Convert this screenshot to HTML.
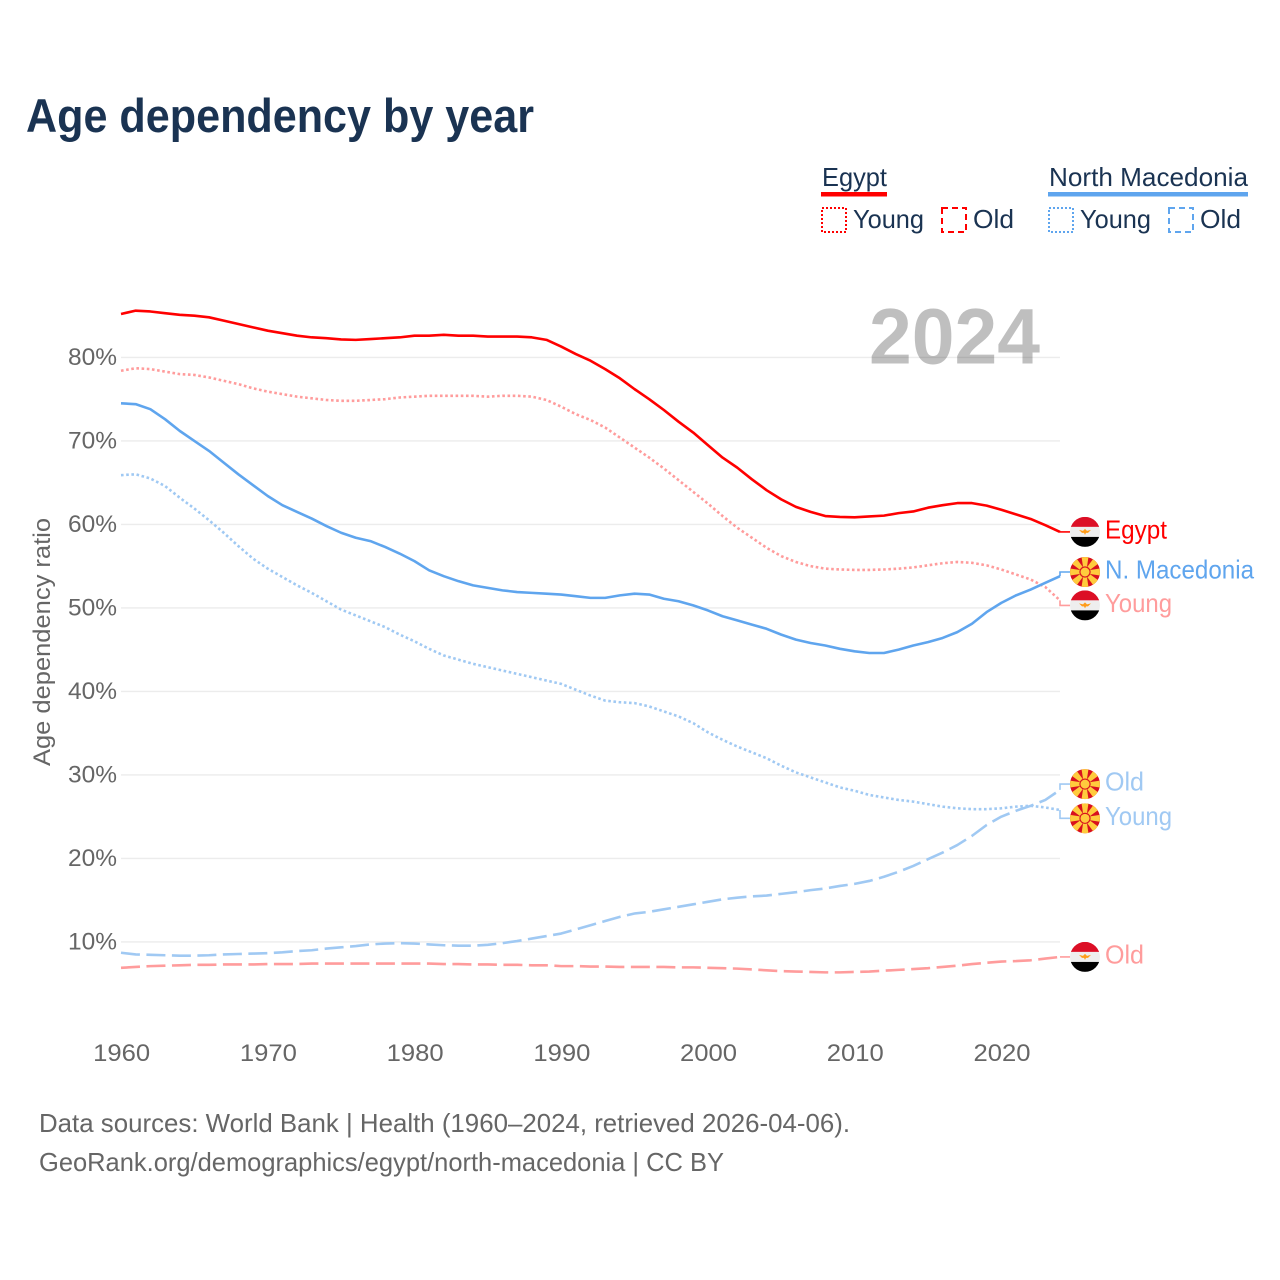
<!DOCTYPE html>
<html lang="en">
<head>
<meta charset="utf-8">
<title>Age dependency by year</title>
<style>
html,body{margin:0;padding:0;background:#fff;}
svg{display:block;font-family:"Liberation Sans",sans-serif;}
</style>
</head>
<body>
<svg id="chart" width="1280" height="1280" viewBox="0 0 1280 1280" xmlns="http://www.w3.org/2000/svg">
<defs>
<clipPath id="flag-clip"><circle cx="0" cy="0" r="15"/></clipPath>
<g id="flag-eg" clip-path="url(#flag-clip)">
<rect x="-15" y="-15" width="30" height="10" fill="#dc0f26"/>
<rect x="-15" y="-5" width="30" height="10" fill="#eeeeee"/>
<rect x="-15" y="5" width="30" height="10" fill="#000000"/>
<path d="M-6 -2 L-2 -1 L0 -3 L2 -1 L6 -2 L3 1 L1 1 L0 3 L-1 1 L-3 1 Z" fill="#ff9c1a"/>
</g>
<g id="flag-mk" clip-path="url(#flag-clip)">
<rect x="-15" y="-15" width="30" height="30" fill="#d8101e"/>
<g fill="#ffcb3d">
<path d="M-1.2 0 L-3.6 -16 L3.6 -16 L1.2 0 Z"/>
<path d="M-1.2 0 L-3.6 -16 L3.6 -16 L1.2 0 Z" transform="rotate(45)"/>
<path d="M-1.2 0 L-3.6 -16 L3.6 -16 L1.2 0 Z" transform="rotate(90)"/>
<path d="M-1.2 0 L-3.6 -16 L3.6 -16 L1.2 0 Z" transform="rotate(135)"/>
<path d="M-1.2 0 L-3.6 -16 L3.6 -16 L1.2 0 Z" transform="rotate(180)"/>
<path d="M-1.2 0 L-3.6 -16 L3.6 -16 L1.2 0 Z" transform="rotate(225)"/>
<path d="M-1.2 0 L-3.6 -16 L3.6 -16 L1.2 0 Z" transform="rotate(270)"/>
<path d="M-1.2 0 L-3.6 -16 L3.6 -16 L1.2 0 Z" transform="rotate(315)"/>
<circle cx="0" cy="0" r="5.6" fill="#d8101e"/>
<circle cx="0" cy="0" r="4.5"/>
</g>
</g>
</defs>

<text x="26" y="132" font-size="47" font-weight="700" fill="#1a3352" textLength="508" lengthAdjust="spacingAndGlyphs">Age dependency by year</text>

<g font-size="26" fill="#1a3352">
<g>
<text x="822" y="186" textLength="65" lengthAdjust="spacingAndGlyphs">Egypt</text>
<rect x="821" y="192" width="66" height="4.5" fill="#ff0000"/>
<rect x="822" y="208" width="24" height="24" fill="none" stroke="#ff0000" stroke-width="2" stroke-dasharray="2 2"/>
<text x="853" y="228" textLength="71" lengthAdjust="spacingAndGlyphs">Young</text>
<rect x="942" y="208" width="24" height="24" fill="none" stroke="#ff0000" stroke-width="2" stroke-dasharray="6 4"/>
<text x="973" y="228" textLength="41" lengthAdjust="spacingAndGlyphs">Old</text>
</g>
<g>
<text x="1049" y="186" textLength="199" lengthAdjust="spacingAndGlyphs">North Macedonia</text>
<rect x="1048" y="192" width="200" height="4.5" fill="#5fa5ee"/>
<rect x="1049" y="208" width="24" height="24" fill="none" stroke="#5fa5ee" stroke-width="2" stroke-dasharray="2 2"/>
<text x="1080" y="228" textLength="71" lengthAdjust="spacingAndGlyphs">Young</text>
<rect x="1169" y="208" width="24" height="24" fill="none" stroke="#5fa5ee" stroke-width="2" stroke-dasharray="6 4"/>
<text x="1200" y="228" textLength="41" lengthAdjust="spacingAndGlyphs">Old</text>
</g>
</g>

<g id="grid"></g>
<g id="y-ticks"></g>
<g id="x-ticks"></g>

<text transform="translate(50,642) rotate(-90)" text-anchor="middle" font-size="24" fill="#666666" textLength="248" lengthAdjust="spacingAndGlyphs">Age dependency ratio</text>

<text x="869" y="363.5" font-size="79" font-weight="700" fill="#000000" fill-opacity="0.25" textLength="171" lengthAdjust="spacingAndGlyphs">2024</text>

<g id="series"></g>
<g id="end-labels"></g>

<g font-size="26" fill="#666666">
<text x="39" y="1132" textLength="811" lengthAdjust="spacingAndGlyphs">Data sources: World Bank | Health (1960–2024, retrieved 2026-04-06).</text>
<text x="39" y="1171" textLength="685" lengthAdjust="spacingAndGlyphs">GeoRank.org/demographics/egypt/north-macedonia | CC BY</text>
</g>
</svg>

<script>
const startYear = 1960;
const endYear = 2024;
const xTickYears = [1960, 1970, 1980, 1990, 2000, 2010, 2020];
const yTickValues = [10, 20, 30, 40, 50, 60, 70, 80];

const egyptTotal = [85.2,85.6,85.5,85.3,85.1,85.0,84.8,84.4,84.0,83.6,83.2,82.9,82.6,82.4,82.3,82.15,82.1,82.2,82.3,82.4,82.6,82.6,82.7,82.6,82.6,82.5,82.5,82.5,82.4,82.1,81.3,80.4,79.6,78.6,77.5,76.2,75.0,73.7,72.3,71.0,69.5,68.0,66.8,65.4,64.1,63.0,62.1,61.5,61.0,60.9,60.85,60.95,61.05,61.35,61.55,62.0,62.3,62.55,62.55,62.25,61.75,61.2,60.65,59.9,59.1];
const egyptYoung = [78.4,78.7,78.6,78.3,78.0,77.9,77.6,77.2,76.8,76.3,75.9,75.6,75.3,75.1,74.9,74.8,74.8,74.9,75.0,75.2,75.3,75.4,75.4,75.4,75.4,75.3,75.4,75.4,75.3,74.9,74.1,73.2,72.5,71.6,70.4,69.2,68.0,66.7,65.3,63.9,62.5,61.0,59.6,58.4,57.2,56.2,55.5,55.0,54.7,54.6,54.55,54.55,54.6,54.7,54.85,55.1,55.35,55.5,55.4,55.1,54.6,54.0,53.4,52.5,50.9];
const egyptOld = [6.9,7.0,7.1,7.15,7.2,7.25,7.25,7.3,7.3,7.3,7.35,7.35,7.35,7.4,7.4,7.4,7.4,7.4,7.4,7.4,7.4,7.4,7.35,7.35,7.3,7.3,7.25,7.25,7.2,7.2,7.1,7.1,7.05,7.05,7.0,7.0,7.0,7.0,6.95,6.95,6.9,6.85,6.8,6.7,6.6,6.5,6.45,6.4,6.35,6.35,6.4,6.45,6.55,6.65,6.75,6.85,7.0,7.15,7.35,7.5,7.65,7.7,7.8,8.0,8.2];
const macedoniaTotal = [74.5,74.4,73.8,72.6,71.2,70.0,68.8,67.4,66.0,64.7,63.4,62.3,61.5,60.7,59.8,59.0,58.4,58.0,57.3,56.5,55.6,54.5,53.8,53.2,52.7,52.4,52.1,51.9,51.8,51.7,51.6,51.4,51.2,51.2,51.5,51.7,51.6,51.1,50.8,50.3,49.7,49.0,48.5,48.0,47.5,46.8,46.2,45.8,45.5,45.1,44.8,44.6,44.6,45.0,45.5,45.9,46.4,47.1,48.1,49.5,50.6,51.5,52.2,53.0,53.8];
const macedoniaYoung = [65.9,66.0,65.5,64.6,63.2,61.9,60.5,59.0,57.4,55.9,54.7,53.7,52.7,51.8,50.8,49.8,49.1,48.4,47.7,46.8,46.0,45.1,44.3,43.8,43.3,42.9,42.5,42.1,41.7,41.3,40.9,40.2,39.5,38.9,38.7,38.6,38.2,37.6,37.0,36.2,35.1,34.2,33.4,32.7,32.0,31.1,30.3,29.7,29.1,28.5,28.1,27.6,27.3,27.0,26.8,26.5,26.2,26.0,25.9,25.9,26.0,26.2,26.3,26.1,25.8];
const macedoniaOld = [8.7,8.5,8.45,8.4,8.35,8.35,8.4,8.5,8.55,8.6,8.65,8.75,8.9,9.0,9.2,9.35,9.5,9.7,9.8,9.85,9.8,9.7,9.6,9.55,9.55,9.65,9.85,10.1,10.4,10.7,11.0,11.5,12.0,12.5,13.0,13.4,13.6,13.9,14.2,14.5,14.8,15.1,15.3,15.45,15.55,15.75,15.95,16.2,16.4,16.7,16.95,17.3,17.8,18.4,19.1,19.9,20.7,21.6,22.7,24.0,25.0,25.7,26.3,27.0,28.2];

const labelAnchorValues = [59.1, 54.3, 50.3, 28.9, 24.8, 8.2];

const NS = 'http://www.w3.org/2000/svg';
function x(year) { return 121 + (year - startYear) * (939 / (endYear - startYear)); }
function y(value) { return 1025.4 - value * 8.35; }
function make(tag, attrs, parent) {
  const el = document.createElementNS(NS, tag);
  for (const k in attrs) el.setAttribute(k, attrs[k]);
  parent.appendChild(el);
  return el;
}

const gridG = document.getElementById('grid');
const yG = document.getElementById('y-ticks');
yTickValues.forEach(function (v) {
  const line = make('line', {x1: 121, x2: 1060, y1: y(v), y2: y(v), stroke: '#ececec', 'stroke-width': 1.4}, gridG);
  
  
  const t = make('text', {x: 117, y: y(v) + 7.5, 'text-anchor': 'end', 'font-size': 24, fill: '#666666', textLength: 49, lengthAdjust: 'spacingAndGlyphs'}, yG);
  t.textContent = v + '%';
  
  
});

const xG = document.getElementById('x-ticks');
xTickYears.forEach(function (yr) {
  const t = make('text', {x: x(yr) + 0.7, y: 1061, 'text-anchor': 'middle', 'font-size': 24, fill: '#666666', textLength: 57, lengthAdjust: 'spacingAndGlyphs'}, xG);
  t.textContent = yr;
  
  
});

const seriesG = document.getElementById('series');
function drawSeries(values, color, dash, name) {
  const d = values.map(function (v, i) {
    return (i ? 'L' : 'M') + x(startYear + i).toFixed(2) + ' ' + y(v).toFixed(2);
  }).join(' ');
  const p = make('path', {d: d, fill: 'none', stroke: color, 'stroke-width': 2.6, 'stroke-linejoin': 'round'}, seriesG);
  if (dash) p.setAttribute('stroke-dasharray', dash);
  
  
}
const RED = '#ff0000', RED_L = '#ff9c9c', BLUE = '#5fa5ee', BLUE_L = '#a0c9f3';
drawSeries(egyptOld, RED_L, '19 6.5', 'line-egypt-old');
drawSeries(macedoniaOld, BLUE_L, '19 6.5', 'line-north-macedonia-old');
drawSeries(macedoniaYoung, BLUE_L, '2.6 2.6', 'line-north-macedonia-young');
drawSeries(egyptYoung, RED_L, '2.6 2.6', 'line-egypt-young');
drawSeries(macedoniaTotal, BLUE, null, 'line-north-macedonia-total');
drawSeries(egyptTotal, RED, null, 'line-egypt-total');

const labelsG = document.getElementById('end-labels');
function drawEnd(values, anchor, flag, text, textLen, color, name) {
  const ex = x(endYear), ey = y(values[values.length - 1]), ly = y(anchor);
  const c = make('polyline', {points: ex + ',' + ey + ' ' + ex + ',' + ly + ' 1070,' + ly, fill: 'none', stroke: color, 'stroke-width': 1.6}, labelsG);
  
  
  const f = make('use', {href: '#' + flag, transform: 'translate(1085,' + ly + ')'}, labelsG);
  
  
  const t = make('text', {x: 1105, y: ly + 6.5, 'font-size': 26, fill: color, textLength: textLen, lengthAdjust: 'spacingAndGlyphs'}, labelsG);
  t.textContent = text;
  
  
}
drawEnd(egyptTotal, labelAnchorValues[0], 'flag-eg', 'Egypt', 62, RED, 'end-egypt-total');
drawEnd(macedoniaTotal, labelAnchorValues[1], 'flag-mk', 'N. Macedonia', 149, BLUE, 'end-north-macedonia-total');
drawEnd(egyptYoung, labelAnchorValues[2], 'flag-eg', 'Young', 67, RED_L, 'end-egypt-young');
drawEnd(macedoniaOld, labelAnchorValues[3], 'flag-mk', 'Old', 39, BLUE_L, 'end-north-macedonia-old');
drawEnd(macedoniaYoung, labelAnchorValues[4], 'flag-mk', 'Young', 67, BLUE_L, 'end-north-macedonia-young');
drawEnd(egyptOld, labelAnchorValues[5], 'flag-eg', 'Old', 39, RED_L, 'end-egypt-old');
</script>
</body>
</html>
